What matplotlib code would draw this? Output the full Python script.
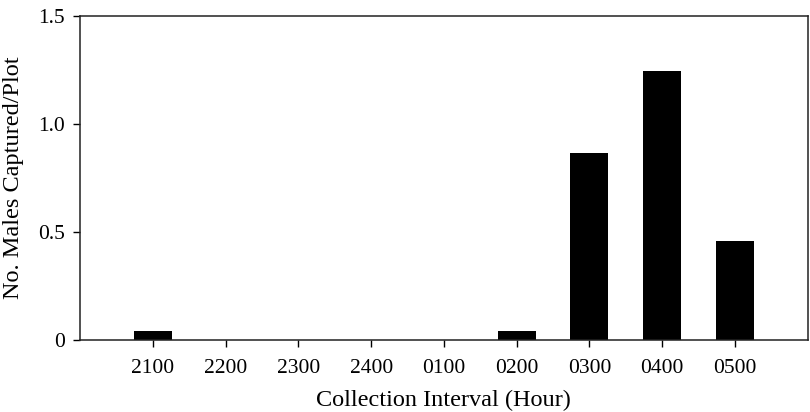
import numpy as np
import matplotlib
matplotlib.use("Agg")
import matplotlib.pyplot as plt

# hourly trap catches
intervals = ["2100", "2200", "2300", "2400", "0100", "0200", "0300", "0400", "0500"]
males_per_plot = [0.042, 0.0, 0.0, 0.0, 0.0, 0.042, 0.865, 1.245, 0.46]

y_ticks = [0, 0.5, 1.0, 1.5]
y_tick_labels = ["0", "0.5", "1.0", "1.5"]

plt.rcParams['font.family'] = ['Liberation Serif', 'DejaVu Serif']

fig = plt.figure(figsize=(8.1, 4.12), dpi=100)
ax = fig.add_axes([0.099, 0.175, 0.898, 0.786])

x = np.arange(len(intervals))
ax.bar(x, males_per_plot, width=0.52, color='black', zorder=2)

ax.set_xlim(-1, len(intervals))
ax.set_ylim(0, 1.5)
ax.set_xticks(x)
ax.set_xticklabels(intervals)
ax.set_yticks(y_ticks)
ax.set_yticklabels(y_tick_labels)

ax.tick_params(direction='out', length=5, width=1.0, labelsize=15.5, colors='black', pad=6)
ax.tick_params(axis='x', pad=9)
for s in ax.spines.values():
    s.set_linewidth(1.1)
    s.set_color('#222222')

ax.set_xlabel("Collection Interval (Hour)", fontsize=17.5, labelpad=8)
ax.set_ylabel("No. Males Captured/Plot", fontsize=17.5, labelpad=10)

fig.savefig("out.png", dpi=100)
